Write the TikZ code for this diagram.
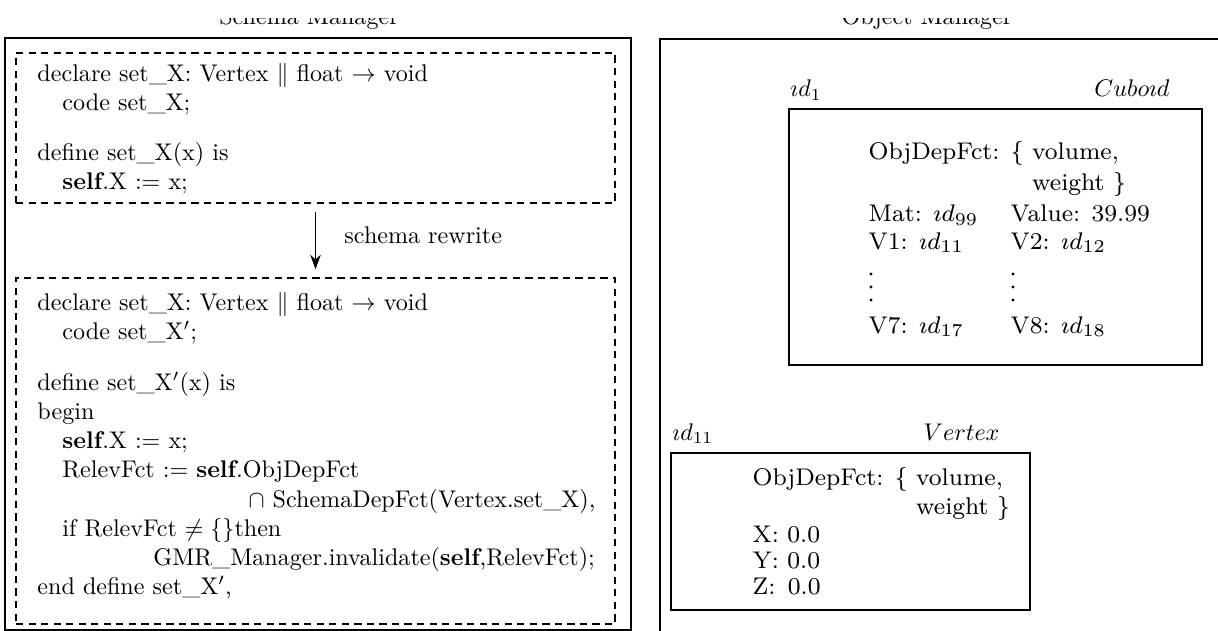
\documentclass[tikz,border=0pt]{standalone}
\usetikzlibrary{arrows.meta,fit}
\begin{document}
\begin{tikzpicture}[x=0.415pt,y=-0.415pt,
  frameline/.style={draw, line width=0.8pt},
  dbox/.style={draw, line width=0.7pt, dash pattern=on 3pt off 2.2pt, inner sep=0pt, rectangle},
  sbox/.style={draw, line width=0.8pt, inner sep=0pt, rectangle},
  codeline/.style={anchor=base west, inner sep=0pt, font=\fontsize{10}{12}\selectfont},
  codeend/.style={anchor=base east, inner sep=0pt, font=\fontsize{10}{12}\selectfont},
  objline/.style={anchor=base west, inner sep=0pt, font=\fontsize{8}{9.6}\selectfont, scale=1.25, transform shape},
  ttl/.style={anchor=base, inner sep=0pt, font=\fontsize{10}{12}\selectfont},
  dotmark/.style={circle, fill, inner sep=0pt, minimum size=1.3pt},
  arr/.style={-{Stealth[length=6pt,width=4.4pt]}, line width=0.6pt, shorten <=3.3pt, shorten >=3.3pt}]
\useasboundingbox (0,0) rectangle (1218,631);

% titles (cut off at the top as in the scan)
\begin{scope}
\clip (0,19) rectangle (1218,40);
\node[ttl] (t1) at (309,25) {Schema Manager};
\node[ttl] (t2) at (927,25) {Object Manager};
\end{scope}

% frames
\node[sbox, fit={(5,38) (631,630)}] (lframe) {};
\draw[frameline] (1230,39) -- (660,39) -- (660,640);

% schema manager: box 1
\node[dbox, fit={(16,53) (615,203)}] (b1) {};
\node[codeline] (a1) at (37,82) {declare set\_X: Vertex $\|$ float $\rightarrow$ void};
\node[codeline] (a2) at (62,111) {code set\_X;};
\node[codeline] (a3) at (37,161) {define set\_X(x) is};
\node[codeline] (a4) at (62,190) {\textbf{self}.X $:=$ x;};

% schema manager: box 2
\node[dbox, fit={(16,278) (615,624)}] (b2) {};
\node[codeline] (c1) at (37,310) {declare set\_X: Vertex $\|$ float $\rightarrow$ void};
\node[codeline] (c2) at (62,339) {code set\_X$'$;};
\node[codeline] (c3) at (37,390) {define set\_X$'$(x) is};
\node[codeline] (c4) at (37,419) {begin};
\node[codeline] (c5) at (62,448) {\textbf{self}.X $:=$ x;};
\node[codeline] (c6) at (62,477) {RelevFct $:=$ \textbf{self}.ObjDepFct};
\node[codeend] (c7) at (596,507) {$\cap$ SchemaDepFct(Vertex.set\_X),};
\node[codeline] (c8) at (62,536) {if RelevFct $\neq\{\}$then};
\node[codeline] (c9) at (153,565) {GMR\_Manager.invalidate(\textbf{self},RelevFct);};
\node[codeline] (c10) at (37,594) {end define set\_X$'$,};

% rewrite arrow
\draw[arr] (b1.south) -- (b2.north);
\node[codeline] (rw) at (344,244) {schema rewrite};

% object manager: cuboid
\node[codeline] (id1) at (790,97) {$\imath d_1$};
\node[codeend] (cub) at (1170,97) {$Cubo\imath d$};
\node[sbox, fit={(789,109) (1202,365)}] (cbox) {};
\node[objline] (o1) at (868,160) {ObjDepFct: \{ volume,};
\node[objline] (o2) at (868,191) {\phantom{ObjDepFct: \{ }weight \}};
\node[objline] (o3) at (868,222) {Mat: $\imath d_{99}$};
\node[objline] (o4) at (1010,222) {Value: 39.99};
\node[objline] (o5) at (868,249) {V1: $\imath d_{11}$};
\node[objline] (o6) at (1010,249) {V2: $\imath d_{12}$};
\foreach \yy [count=\k] in {274,287,300} {
  \node[dotmark] (d1\k) at (871,\yy) {};
  \node[dotmark] (d2\k) at (1013,\yy) {};
}
\node[objline] (o9) at (868,333) {V7: $\imath d_{17}$};
\node[objline] (o10) at (1010,333) {V8: $\imath d_{18}$};

% object manager: vertex
\node[codeline] (id11) at (672,440) {$\imath d_{11}$};
\node[codeend] (vtx) at (1000,440) {$Vertex$};
\node[sbox, fit={(671,453) (1030,610)}] (vbox) {};
\node[objline] (p1) at (752,485) {ObjDepFct: \{ volume,};
\node[objline] (p2) at (752,514) {\phantom{ObjDepFct: \{ }weight \}};
\node[objline] (p3) at (752,542) {X: 0.0};
\node[objline] (p4) at (752,568) {Y: 0.0};
\node[objline] (p5) at (752,594) {Z:\, 0.0};
\end{tikzpicture}
\end{document}
